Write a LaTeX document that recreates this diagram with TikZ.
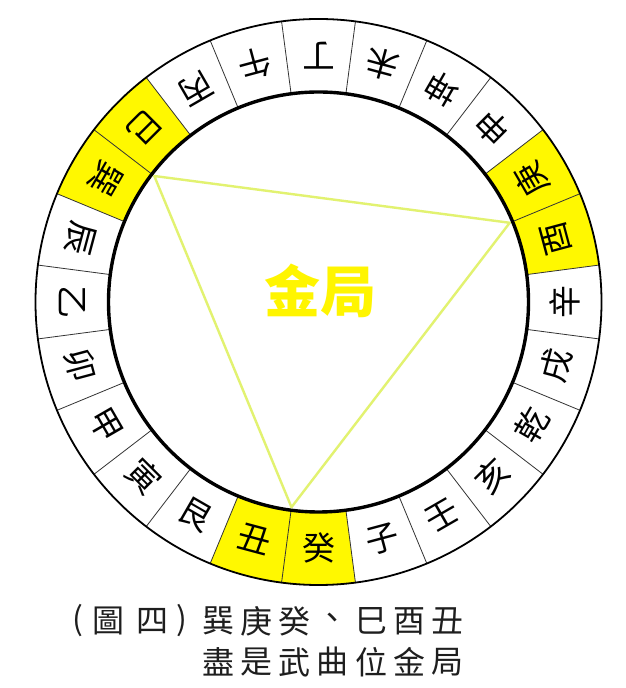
\documentclass[tikz,border=0pt]{standalone}
\usepackage{fontspec}
\newfontfamily\cjk{Noto Sans CJK TC}
\definecolor{cellyellow}{RGB}{255,248,0}
\definecolor{triline}{RGB}{226,242,112}
\definecolor{goldtext}{RGB}{255,245,0}
\definecolor{captxt}{RGB}{30,30,30}
\tikzset{
  ringch/.style={font=\cjk\fontsize{33}{33}\selectfont, inner sep=0pt, text=black},
  captch/.style={font=\cjk\fontsize{32}{32}\selectfont, inner sep=0pt, text=captxt},
  divider/.style={line width=0.8pt, draw=black!80},
  yellowcell/.style={fill=cellyellow},
}
\begin{document}
\begin{tikzpicture}[x=1pt,y=1pt]
\useasboundingbox (0,0) rectangle (626,688);
\fill[white] (0,0) rectangle (626,688);
\coordinate (C) at (318.5,386);
\begin{scope}[shift={(318.5,386)}]
  % yellow cells
  \foreach \i in {1,2,9,10,17,18} {
    \pgfmathsetmacro\ta{-75-15*\i-7.5}
    \pgfmathsetmacro\tb{-75-15*\i+7.5}
    \fill[yellowcell] (\ta:210pt) arc[start angle=\ta, end angle=\tb, radius=210pt]
      -- (\tb:283pt) arc[start angle=\tb, end angle=\ta, radius=283pt] -- cycle;
  }
  % dividers
  \foreach \k in {0,...,23} {
    \pgfmathsetmacro\td{-67.5-15*\k}
    \draw[divider] (\td:210pt) -- (\td:283pt);
  }
  \draw[line width=1.8pt] (0,0) circle[radius=283pt];
  \draw[line width=3.4pt] (0,0) circle[radius=210pt];
  % triangle
  \coordinate (v1) at (142.5:207pt);
  \coordinate (v2) at (22.5:207pt);
  \coordinate (v3) at (-97.5:207pt);
  \draw[triline, line width=2.4pt, line join=round] (v1) -- (v2) -- (v3) -- cycle;
  % ring characters
  \foreach \ch [count=\i from 0] in {子,癸,丑,艮,寅,甲,卯,乙,辰,巽,巳,丙,午,丁,未,坤,申,庚,酉,辛,戌,乾,亥,壬} {
    \pgfmathsetmacro\th{-75-15*\i}
    \node[ringch, rotate=\th+90] (m\i) at (\th:246pt) {\ch};
  }
\end{scope}
% centre text
\node[font=\cjk\bfseries\fontsize{56}{56}\selectfont, text=goldtext, inner sep=0pt] (title) at (320,397) {金局};
% caption
\node[captch] (pl) at (78,67) {(};
\node[captch] (pa) at (108,67) {圖};
\node[captch] (pb) at (152,67) {四};
\node[captch] (pr) at (182,67) {)};
\foreach \ch [count=\i from 0] in {巽,庚,癸,、,巳,酉,丑} {
  \node[captch] (ca\i) at (218+38.3*\i,67) {\ch};
}
\foreach \ch [count=\i from 0] in {盡,是,武,曲,位,金,局} {
  \node[captch] (cb\i) at (218+38.3*\i,26) {\ch};
}
\end{tikzpicture}
\end{document}
